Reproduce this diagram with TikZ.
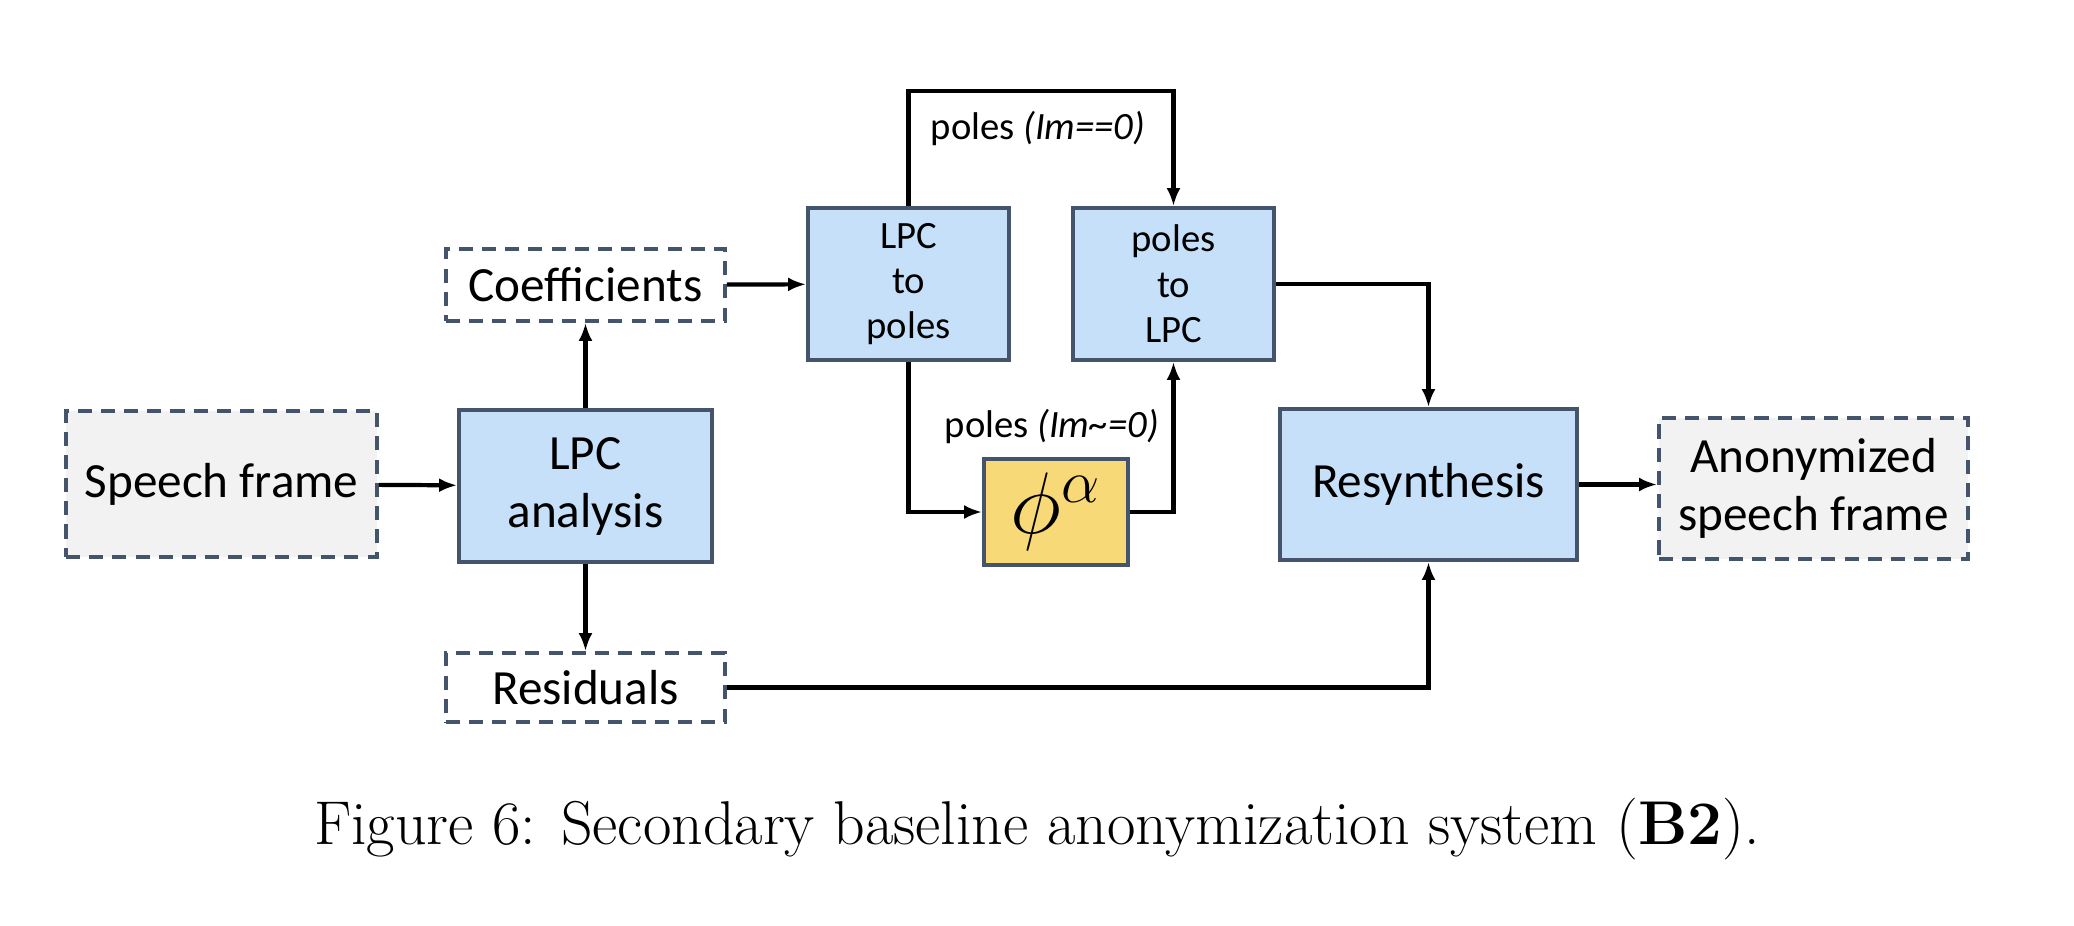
\documentclass[tikz,border=0pt]{standalone}
\usepackage{fontspec}
\setmainfont{Carlito}
\newfontfamily\capfont{Latin Modern Roman}
\usetikzlibrary{arrows.meta}
\definecolor{edge}{RGB}{68,84,106}
\definecolor{boxblue}{RGB}{198,224,250}
\definecolor{boxgold}{RGB}{248,217,120}
\definecolor{boxgray}{RGB}{242,242,242}
\tikzset{
  base/.style={draw=edge, line width=1.1pt, align=center, inner sep=0pt, text=black},
  bluebox/.style={base, fill=boxblue},
  dbox/.style={base, dash pattern=on 4pt off 2.6pt},
  arr/.style={line width=1.2pt, -{Latex[length=0.18cm,width=0.14cm]}},
  big/.style={font=\fontsize{14}{16.5}\selectfont},
  small/.style={font=\fontsize{11}{12.9}\selectfont},
  lbl/.style={font=\fontsize{11}{13}\selectfont, inner sep=0pt}
}
\begin{document}
\begin{tikzpicture}
\path[use as bounding box] (0,0) rectangle (20.74,-9.26);

\node[dbox, fill=boxgray, big, minimum width=3.11cm, minimum height=1.46cm] (speech) at (2.215,-4.84) {Speech frame};
\node[bluebox, big, minimum width=2.53cm, minimum height=1.52cm] (lpca) at (5.855,-4.86) {LPC\\analysis};
\node[dbox, fill=white, big, minimum width=2.79cm, minimum height=0.72cm] (coef) at (5.855,-2.85) {Coefficients};
\node[dbox, fill=white, big, minimum width=2.79cm, minimum height=0.69cm] (resid) at (5.855,-6.875) {Residuals};
\node[bluebox, small, minimum width=2.01cm, minimum height=1.52cm] (l2p) at (9.085,-2.84) {LPC\\to\\poles};
\node[bluebox, small, minimum width=2.01cm, minimum height=1.52cm] (p2l) at (11.735,-2.84) {poles\\to\\LPC};
\node[base, fill=boxgold, minimum width=1.44cm, minimum height=1.06cm, font=\fontsize{24}{28}\selectfont] (phi) at (10.56,-5.12) {$\phi^{\alpha}$};
\node[bluebox, big, minimum width=2.97cm, minimum height=1.51cm] (resyn) at (14.285,-4.845) {Resynthesis};
\node[dbox, fill=boxgray, big, minimum width=3.09cm, minimum height=1.41cm] (anon) at (18.135,-4.885) {Anonymized\\speech frame};

\node[lbl] (lab1) at (10.38,-1.28) {poles \textit{(Im==0)}};
\node[lbl] (lab2) at (10.52,-4.26) {poles \textit{(Im\textasciitilde=0)}};

\draw[arr] (speech) -- (lpca);
\draw[arr] (lpca) -- (coef);
\draw[arr] (lpca) -- (resid);
\draw[arr] (coef) -- (l2p);
\draw[arr] (l2p.north) -- ++(0,1.15) -| (p2l.north);
\draw[arr] (l2p.south) |- (phi.west);
\draw[arr] (phi.east) -| (p2l.south);
\draw[arr] (p2l.east) -| (resyn.north);
\draw[arr] (resid.east) -| (resyn.south);
\draw[arr] (resyn.east) -- (resyn.east -| anon.west);

\node[font=\capfont\fontsize{17.6}{20}\selectfont, inner sep=0pt] (cap) at (10.37,-8.29) {Figure 6: Secondary baseline anonymization system (\textbf{B2}).};
\end{tikzpicture}
\end{document}
